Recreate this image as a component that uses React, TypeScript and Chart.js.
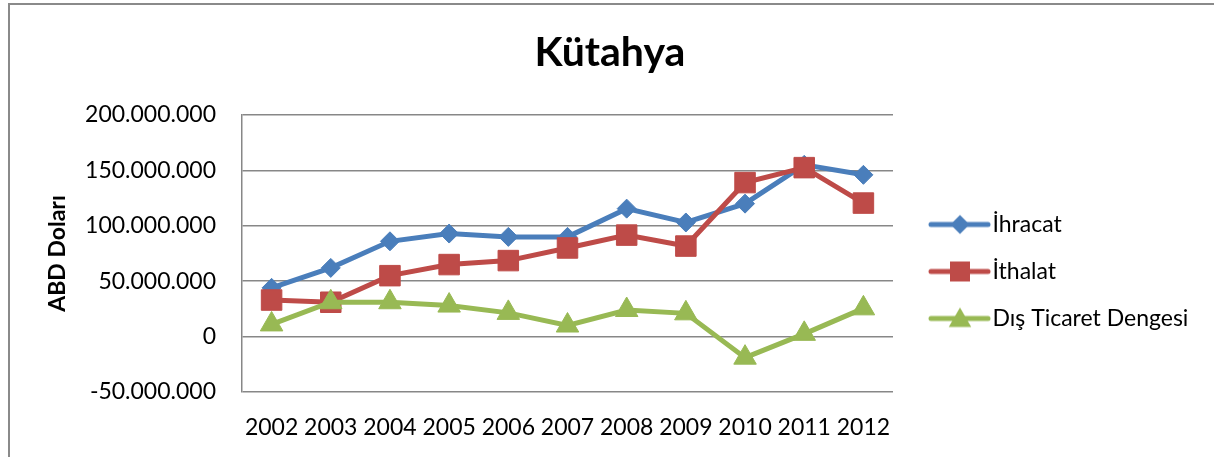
import React, { useEffect, useRef } from 'react';
import { Chart, registerables } from 'chart.js';

Chart.register(...registerables);

const years = ['2002', '2003', '2004', '2005', '2006', '2007', '2008', '2009', '2010', '2011', '2012'];
const ihracat = [44000000, 62000000, 86000000, 93000000, 90000000, 90000000, 115500000, 103000000, 120000000, 155000000, 146000000];
const ithalat = [33000000, 31000000, 55000000, 65000000, 68600000, 80000000, 91600000, 81700000, 139000000, 152500000, 120500000];
const denge = [11000000, 31000000, 31000000, 28000000, 21400000, 10000000, 24000000, 21000000, -19000000, 2500000, 25500000];
const seriesNames = ['İhracat', 'İthalat', 'Dış Ticaret Dengesi'];
const chartTitle = 'Kütahya';
const yTitle = 'ABD Doları';
const yMin = -50000000;
const yMax = 200000000;
const yStep = 50000000;

const W = 1214;
const H = 457;
const FONT = 'Lato';
const colors = ['#4a7ebb', '#be4b48', '#98b954'];
const pointStyles = ['rectRot', 'rect', 'triangle'];
const radii = [9.5, 14.5, 13];

function fmt(v: number): string {
  const s = Math.abs(Math.round(v)).toString().replace(/\B(?=(\d{3})+(?!\d))/g, '.');
  return (v < 0 ? '-' : '') + s;
}

function makeLegendImage(i: number): HTMLCanvasElement {
  const c = document.createElement('canvas');
  c.width = 84;
  c.height = 32;
  const ctx = c.getContext('2d')!;
  const cy = 16;
  ctx.strokeStyle = colors[i];
  ctx.fillStyle = colors[i];
  ctx.lineWidth = 5;
  ctx.lineCap = 'round';
  ctx.beginPath();
  ctx.moveTo(24, cy);
  ctx.lineTo(81, cy);
  ctx.stroke();
  const mx = 53;
  ctx.beginPath();
  if (i === 0) {
    const r = 9.5;
    ctx.moveTo(mx, cy - r);
    ctx.lineTo(mx + r, cy);
    ctx.lineTo(mx, cy + r);
    ctx.lineTo(mx - r, cy);
  } else if (i === 1) {
    const s = 10;
    ctx.rect(mx - s, cy - s, 2 * s, 2 * s);
  } else {
    const r = 13;
    ctx.moveTo(mx, cy - r + 2);
    ctx.lineTo(mx + r * 0.866, cy + r / 2 + 2);
    ctx.lineTo(mx - r * 0.866, cy + r / 2 + 2);
  }
  ctx.closePath();
  ctx.fill();
  return c;
}

export default function App() {
  const ref = useRef<HTMLCanvasElement>(null);

  useEffect(() => {
    if (!ref.current) return;
    const legendFontSize = 23;
    const legendPadding = 24;
    const pointStyleWidth = 64;
    const m = document.createElement('canvas').getContext('2d')!;
    m.font = `${legendFontSize}px ${FONT}`;
    const maxText = Math.max(...seriesNames.map((s) => m.measureText(s).width));
    const legendWidth = legendPadding + pointStyleWidth + legendFontSize / 2 + maxText + 18;
    const chartLeft = 242;
    const chartRight = 885;
    const padRight = Math.max(0, W - chartRight - legendWidth);
    // keep the title centred on the whole frame (centre ~610)
    const padLeft = Math.max(0, 2 * 610 - W + padRight);

    const images = [0, 1, 2].map(makeLegendImage);
    const dataSets = [ihracat, ithalat, denge];

    const chart = new Chart(ref.current, {
      type: 'line',
      data: {
        labels: years,
        datasets: dataSets.map((d, i) => ({
          label: seriesNames[i],
          data: d,
          borderColor: colors[i],
          backgroundColor: colors[i],
          borderWidth: 5,
          pointStyle: pointStyles[i] as any,
          pointRadius: radii[i],
          pointHoverRadius: radii[i],
          pointBackgroundColor: colors[i],
          pointBorderColor: colors[i],
          pointBorderWidth: 1,
          tension: 0,
          fill: false,
          order: 3 - i,
        })),
      },
      options: {
        animation: false,
        responsive: false,
        maintainAspectRatio: false,
        events: [],
        layout: { padding: { left: padLeft, top: 0, right: padRight, bottom: 0 } },
        plugins: {
          tooltip: { enabled: false },
          title: {
            display: true,
            text: chartTitle,
            color: '#000',
            font: { family: FONT, size: 41, weight: 'bold' },
            padding: { top: 28.5, bottom: 37.3 },
          },
          legend: {
            display: true,
            position: 'right',
            align: 'start',
            fullSize: false,
            maxWidth: 500,
            title: {
              display: true,
              text: '',
              font: { family: FONT, size: 12 },
              padding: { top: 0, bottom: 59.6 },
            },
            labels: {
              usePointStyle: true,
              pointStyleWidth: pointStyleWidth,
              padding: legendPadding,
              color: '#000',
              font: { family: FONT, size: legendFontSize },
              sort: (a: any, b: any) => a.datasetIndex - b.datasetIndex,
              generateLabels: (ch: any) => {
                const items = (Chart.defaults.plugins.legend.labels as any).generateLabels(ch);
                return items.map((it: any) => ({ ...it, pointStyle: images[it.datasetIndex], lineWidth: 0 }));
              },
            },
          },
        },
        scales: {
          x: {
            type: 'category',
            offset: true,
            grid: { display: false, drawTicks: false },
            border: { display: false },
            ticks: {
              color: '#000',
              font: { family: FONT, size: 23 },
              maxRotation: 0,
              minRotation: 0,
              autoSkip: false,
              padding: 22,
            },
            afterFit: (s: any) => {
              s.height = 65;
            },
          },
          y: {
            type: 'linear',
            min: yMin,
            max: yMax,
            grid: { color: '#878787', lineWidth: 1.5, drawTicks: false },
            border: { display: true, color: '#878787', width: 1.5 },
            ticks: {
              stepSize: yStep,
              color: '#000',
              font: { family: FONT, size: 23 },
              padding: 26,
              callback: (v: any) => fmt(Number(v)),
            },
            title: {
              display: true,
              text: yTitle,
              color: '#000',
              font: { family: FONT, size: 23, weight: 'bold' },
              padding: { top: Math.max(0, 44 - padLeft), bottom: 0 },
            },
            afterFit: (s: any) => {
              s.width = chartLeft - padLeft;
            },
          },
        },
      },
    });
    return () => chart.destroy();
  }, []);

  return (
    <div style={{ position: 'absolute', left: 0, top: 0, width: W, height: H, overflow: 'hidden', background: '#fff' }}>
      <div
        style={{
          position: 'absolute',
          left: 8,
          top: 3,
          width: 1400,
          height: 700,
          border: '2px solid #8a8a8a',
          boxSizing: 'border-box',
        }}
      />
      <canvas ref={ref} width={W} height={H} style={{ position: 'absolute', left: 0, top: 0, display: 'block' }} />
    </div>
  );
}
